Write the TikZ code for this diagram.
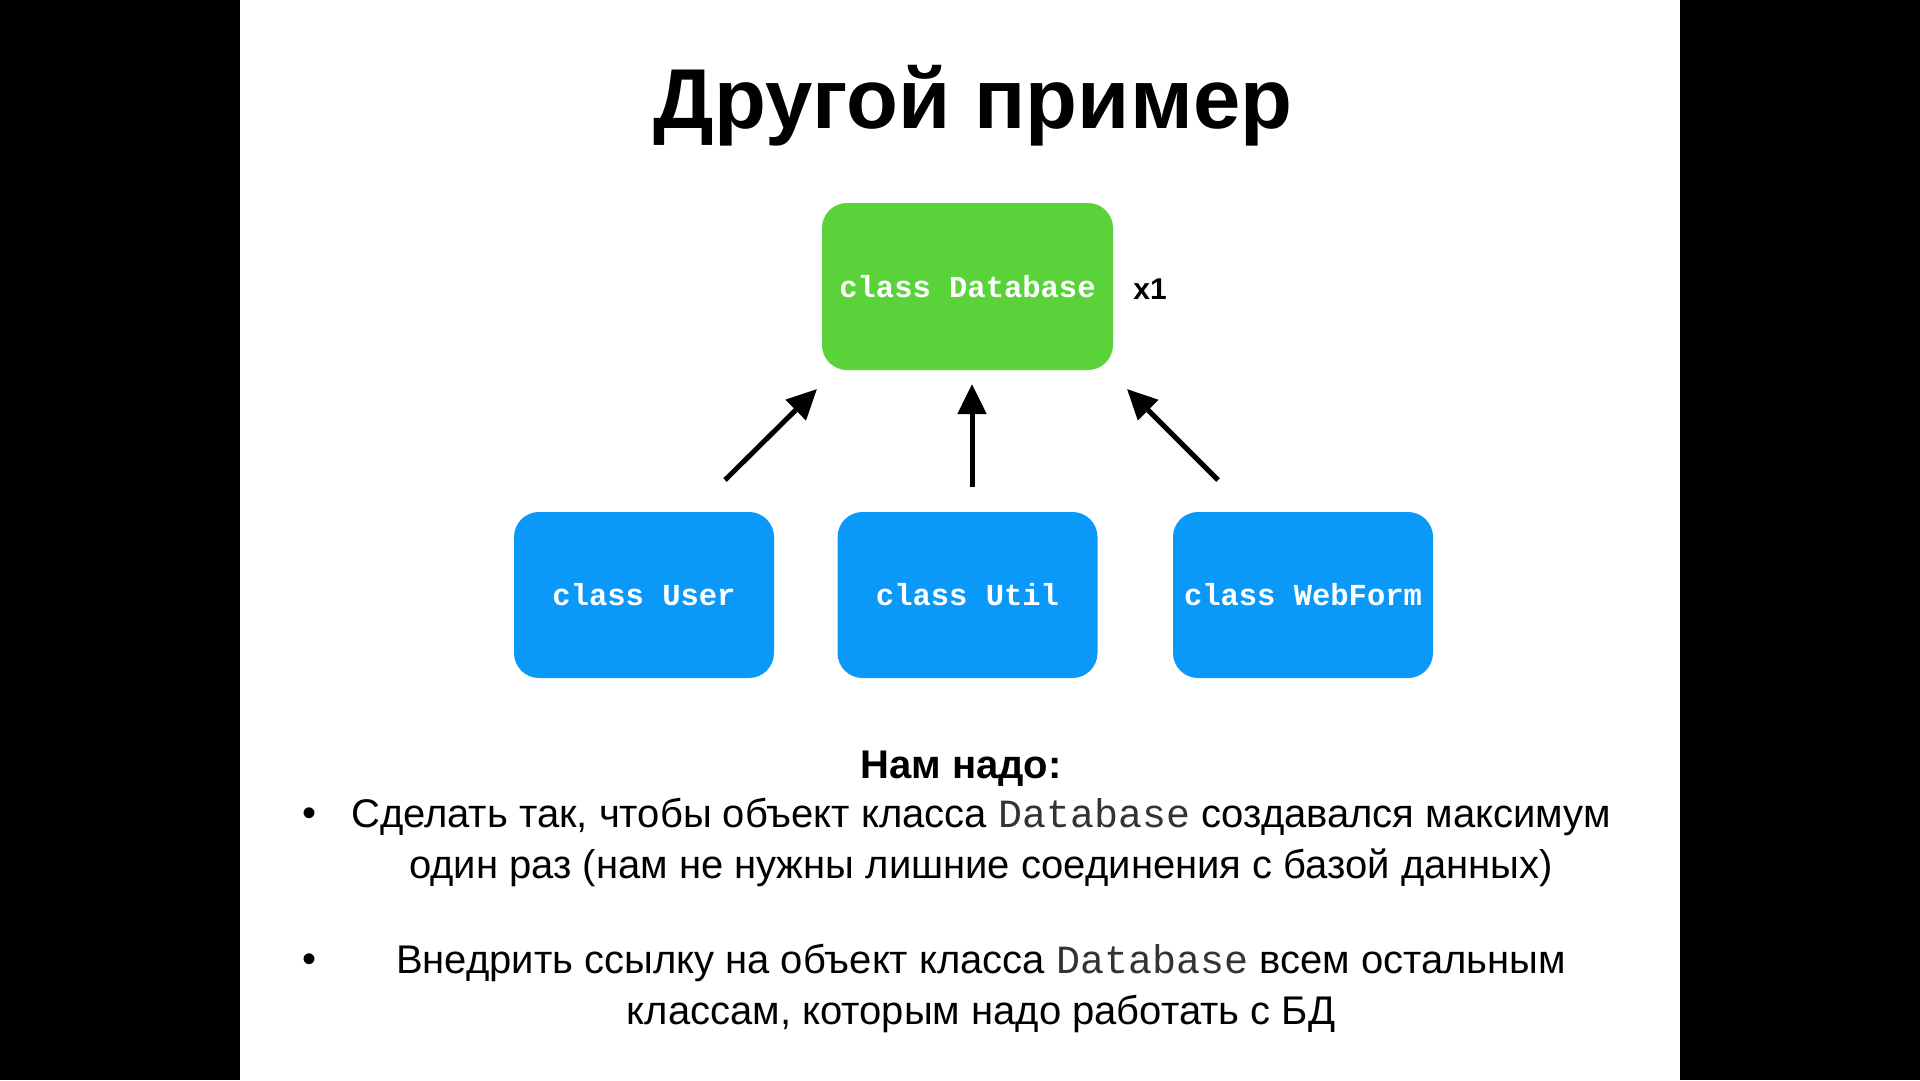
\documentclass[tikz,border=0pt]{standalone}
\usepackage{fontspec}
\setmainfont{Liberation Sans}
\setmonofont{Liberation Mono}
\usetikzlibrary{arrows.meta}
\definecolor{dbgreen}{HTML}{5AD23A}
\definecolor{clblue}{HTML}{0A99F8}
\definecolor{codegray}{HTML}{333333}
\begin{document}
\begin{tikzpicture}[x=1pt,y=-1pt,
  classbox/.style={rounded corners=25pt, inner sep=0pt, text=white,
    font=\fontsize{30.5}{36}\selectfont\ttfamily\bfseries},
  arr/.style={line width=5pt, -{Triangle[length=30pt,width=28pt]}},
  body/.style={align=center, font=\fontsize{40}{51}\selectfont, inner sep=0pt},
  dot/.style={font=\fontsize{40}{48}\selectfont, inner sep=0pt, anchor=base}]
\useasboundingbox (0,0) rectangle (1920,1080);
\fill[black] (0,0) rectangle (1920,1080);
\fill[white] (240,0) rectangle (1680,1080);
\node[font=\fontsize{85}{100}\selectfont\bfseries, inner sep=0pt, anchor=base] (title) at (973,128) {Другой пример};
\node[classbox, fill=dbgreen, minimum width=291pt, minimum height=167pt] (db) at (967.5,286.5) {class Database};
\node[font=\fontsize{30}{36}\selectfont\bfseries, inner sep=0pt] (x1) at (1150,289) {x1};
\node[classbox, fill=clblue, minimum width=260pt, minimum height=166pt] (user) at (644,595) {class User};
\node[classbox, fill=clblue, minimum width=260pt, minimum height=166pt] (util) at (967.5,595) {class Util};
\node[classbox, fill=clblue, minimum width=260pt, minimum height=166pt] (web) at (1303,595) {class WebForm};
\coordinate (a1s) at (725,480); \coordinate (a1e) at (817,389);
\coordinate (a2s) at (972,487); \coordinate (a2e) at (972,384);
\coordinate (a3s) at (1218,480); \coordinate (a3e) at (1127,389);
\draw[arr] (a1s) -- (a1e);
\draw[arr] (a2s) -- (a2e);
\draw[arr] (a3s) -- (a3e);
\node[font=\fontsize{40}{48}\selectfont\bfseries, inner sep=0pt, anchor=base] (need) at (961,778) {Нам надо:};
\node[body, anchor=north] (b1) at (981,798) {Сделать так, чтобы объект класса {\ttfamily\color{codegray}Database} создавался максимум\\один раз (нам не нужны лишние соединения с базой данных)};
\node[body, anchor=north] (b2) at (981,944) {Внедрить ссылку на объект класса {\ttfamily\color{codegray}Database} всем остальным\\классам, которым надо работать с БД};
\node[dot] (d1) at (309,826) {•};
\node[dot] (d2) at (309,972) {•};
\end{tikzpicture}
\end{document}
